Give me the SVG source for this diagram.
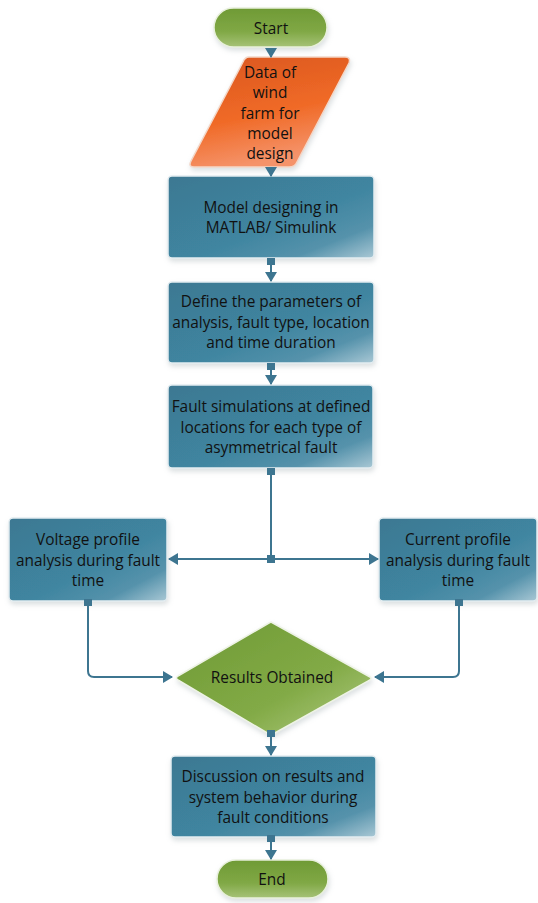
<svg xmlns="http://www.w3.org/2000/svg" width="538" height="903" viewBox="0 0 538 903">
<style>
text{font-family:"Open Sans","Noto Sans","Liberation Sans",sans-serif;font-size:15.4px;fill:#111;text-anchor:middle;dominant-baseline:central}
.box{fill:url(#gBlue);stroke:#e4edf1;stroke-width:1.5;filter:url(#sh)}
.pill{fill:url(#gGreen);stroke:#e8f0dc;stroke-width:1.5;filter:url(#sh)}
.dia{fill:url(#gGreen2);stroke:#eef3e6;stroke-width:1.5;filter:url(#sh)}
.con{fill:none;stroke:#3d7590;stroke-width:2}
.dot{fill:#3d7590}
</style>
<defs>
<linearGradient id="gBlue" x1="0" y1="0" x2="1" y2="1">
<stop offset="0" stop-color="#3d7892"/><stop offset="0.55" stop-color="#3f85a0"/><stop offset="0.8" stop-color="#5592ab"/><stop offset="1" stop-color="#a9c8d5"/>
</linearGradient>
<linearGradient id="gGreen" x1="0" y1="0" x2="0" y2="1">
<stop offset="0" stop-color="#6f9a35"/><stop offset="0.6" stop-color="#80a845"/><stop offset="1" stop-color="#a6c277"/>
</linearGradient>
<linearGradient id="gGreen2" x1="0" y1="0" x2="1" y2="1">
<stop offset="0" stop-color="#6f9a35"/><stop offset="0.6" stop-color="#82aa46"/><stop offset="1" stop-color="#b2cc85"/>
</linearGradient>
<linearGradient id="gOrange" x1="0" y1="0" x2="0.3" y2="1">
<stop offset="0" stop-color="#d9561e"/><stop offset="0.6" stop-color="#f06a27"/><stop offset="1" stop-color="#f5936a"/>
</linearGradient>
<filter id="sh" x="-10%" y="-10%" width="130%" height="140%">
<feDropShadow dx="1" dy="3" stdDeviation="2.5" flood-color="#a7b2b7" flood-opacity="0.4"/>
</filter>
<marker id="ar" viewBox="0 0 10 12" refX="9" refY="6" markerWidth="5" markerHeight="6" orient="auto-start-reverse" markerUnits="strokeWidth">
<path d="M0,0 L10,6 L0,12 Z" fill="#3d7590"/>
</marker>
</defs>

<g id="start">
<rect class="pill" x="214" y="8" width="113" height="39" rx="19.5"/>
<text x="271" y="28">Start</text>
</g>

<g id="data">
<path d="M249,57 H345 Q351,57 349,63 L297,162 Q295,167 289,167 H194 Q188,167 191,161 L243,62 Q245,57 249,57 Z" fill="url(#gOrange)" stroke="#f3d7c8" stroke-width="1.5" filter="url(#sh)"/>
<text x="270" y="72">Data of</text>
<text x="270" y="92">wind</text>
<text x="270" y="113">farm for</text>
<text x="270" y="133">model</text>
<text x="270" y="153">design</text>
</g>

<g id="model">
<rect class="box" x="168" y="176" width="206" height="82" rx="4"/>
<text x="271" y="207">Model designing in</text>
<text x="271" y="227">MATLAB/ Simulink</text>
</g>

<g id="define">
<rect class="box" x="168" y="282" width="206" height="81" rx="4"/>
<text x="271" y="301">Define the parameters of</text>
<text x="271" y="322">analysis, fault type, location</text>
<text x="271" y="342">and time duration</text>
</g>

<g id="fault">
<rect class="box" x="168" y="385" width="205" height="83" rx="4"/>
<text x="271" y="406">Fault simulations at defined</text>
<text x="271" y="427">locations for each type of</text>
<text x="271" y="447">asymmetrical fault</text>
</g>

<g id="voltage">
<rect class="box" x="9" y="518" width="158" height="83" rx="4"/>
<text x="88" y="539">Voltage profile</text>
<text x="88" y="560">analysis during fault</text>
<text x="88" y="580">time</text>
</g>

<g id="current">
<rect class="box" x="379" y="518" width="158" height="83" rx="4"/>
<text x="458" y="539">Current profile</text>
<text x="458" y="560">analysis during fault</text>
<text x="458" y="580">time</text>
</g>

<g id="results">
<path class="dia" d="M271,622 L370,677 Q372,678 370,680 L273,734 Q271,735 269,734 L178,680 Q175,678 178,676 L269,623 Q271,622 271,622 Z"/>
<text x="272" y="677">Results Obtained</text>
</g>

<g id="discussion">
<rect class="box" x="171" y="756" width="205" height="81" rx="4"/>
<text x="273" y="776">Discussion on results and</text>
<text x="273" y="797">system behavior during</text>
<text x="273" y="817">fault conditions</text>
</g>

<g id="end">
<rect class="pill" x="217" y="860" width="111" height="38" rx="19"/>
<text x="272" y="879">End</text>
</g>

<g id="connectors">
<path class="con" d="M271,48 V57" marker-end="url(#ar)"/>
<path class="con" d="M271,167 V176" marker-end="url(#ar)"/>
<rect class="dot" x="267" y="258" width="8" height="7"/>
<path class="con" d="M271,261 V281" marker-end="url(#ar)"/>
<rect class="dot" x="267" y="363" width="8" height="7"/>
<path class="con" d="M271,366 V384" marker-end="url(#ar)"/>
<rect class="dot" x="267" y="468" width="8" height="7"/>
<path class="con" d="M271,471 V559"/>
<path class="con" d="M271,559 H169" marker-end="url(#ar)"/>
<path class="con" d="M271,559 H378" marker-end="url(#ar)"/>
<rect class="dot" x="267" y="555" width="8" height="8"/>
<rect class="dot" x="84" y="599" width="8" height="7"/>
<path class="con" d="M88,603 V671 Q88,677 94,677 H172" marker-end="url(#ar)"/>
<rect class="dot" x="455" y="599" width="8" height="7"/>
<path class="con" d="M459,603 V671 Q459,677 453,677 H375" marker-end="url(#ar)"/>
<rect class="dot" x="267" y="730" width="8" height="7"/>
<path class="con" d="M271,733 V755" marker-end="url(#ar)"/>
<rect class="dot" x="267" y="835" width="8" height="7"/>
<path class="con" d="M271,838 V859" marker-end="url(#ar)"/>
</g>
</svg>
